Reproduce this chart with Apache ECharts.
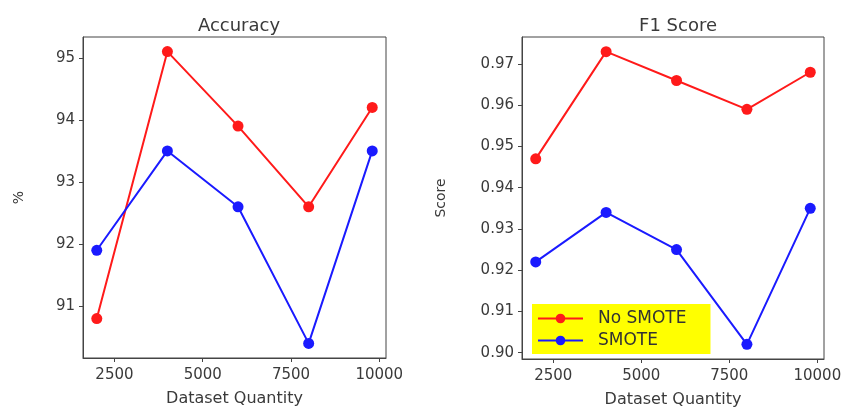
<!DOCTYPE html>
<html><head><meta charset="utf-8">
<script src="https://cdn.jsdelivr.net/npm/echarts@6/dist/echarts.min.js"></script>
<style>html,body{margin:0;padding:0;background:#fff}#c{width:848px;height:407px}</style>
</head><body><div id="c"></div>
<script>
const quantities = [2000, 4000, 6000, 8000, 9800];
const accNoSmote = [90.8, 95.1, 93.9, 92.6, 94.2];
const accSmote = [91.9, 93.5, 92.6, 90.4, 93.5];
const f1NoSmote = [0.947, 0.973, 0.966, 0.959, 0.968];
const f1Smote = [0.922, 0.934, 0.925, 0.902, 0.935];
const xTicks = [2500, 5000, 7500, 10000];
const accTicks = [91, 92, 93, 94, 95];
const f1Ticks = [0.90, 0.91, 0.92, 0.93, 0.94, 0.95, 0.96, 0.97];

const font = 'DejaVu Sans';
const txt = '#3a3a3a';
const red = '#ff1a1a', blue = '#1a1aff';
const pairs = (xs, ys) => xs.map((x, i) => [x, ys[i]]);

function xAxis(idx) {
  return {
    type: 'value', gridIndex: idx, min: 1610, max: 10190,
    name: 'Dataset Quantity', nameLocation: 'middle', nameGap: 33,
    nameTextStyle: {fontFamily: font, fontSize: 16, color: txt},
    axisLine: {show: true, lineStyle: {color: '#444'}},
    axisTick: {show: true, customValues: xTicks, length: 4, lineStyle: {color: '#444'}},
    axisLabel: {customValues: xTicks, fontFamily: font, fontSize: 15, color: txt, margin: 10, formatter: v => String(v)},
    splitLine: {show: false}
  };
}
function yAxis(idx, mn, mx, ticks, name, fmt, gap) {
  return {
    type: 'value', gridIndex: idx, min: mn, max: mx,
    name: name, nameLocation: 'middle', nameGap: gap,
    nameTextStyle: {fontFamily: font, fontSize: 14, color: txt},
    axisLine: {show: true, lineStyle: {color: '#444'}},
    axisTick: {show: true, customValues: ticks, length: 4, lineStyle: {color: '#444'}},
    axisLabel: {customValues: ticks, fontFamily: font, fontSize: 15, color: txt, margin: 8, formatter: fmt},
    splitLine: {show: false}
  };
}
function line(name, data, color, xi, yi) {
  return {
    name: name, type: 'line', xAxisIndex: xi, yAxisIndex: yi, data: data,
    symbol: 'circle', symbolSize: 11, showSymbol: true,
    lineStyle: {color: color, width: 2}, itemStyle: {color: color},
    emphasis: {disabled: true}, animation: false
  };
}
const chart = echarts.init(document.getElementById('c'), null, {renderer: 'canvas'});
chart.setOption({
  animation: false,
  title: [
    {text: 'Accuracy', left: 234, top: 12, textAlign: 'center', textStyle: {fontFamily: font, fontSize: 18, fontWeight: 'normal', color: txt}},
    {text: 'F1 Score', left: 673, top: 12, textAlign: 'center', textStyle: {fontFamily: font, fontSize: 18, fontWeight: 'normal', color: txt}}
  ],
  grid: [
    {left: 83, top: 37, width: 303, height: 321, show: true, borderColor: '#444', borderWidth: 1, outerBoundsMode: 'none', containLabel: false},
    {left: 522, top: 37, width: 302, height: 322, show: true, borderColor: '#444', borderWidth: 1, outerBoundsMode: 'none', containLabel: false}
  ],
  xAxis: [xAxis(0), xAxis(1)],
  yAxis: [
    yAxis(0, 90.165, 95.335, accTicks, '%', v => String(v), 57),
    yAxis(1, 0.89845, 0.97655, f1Ticks, 'Score', v => v.toFixed(2), 74)
  ],
  legend: {
    data: ['No SMOTE', 'SMOTE'], orient: 'vertical', left: 532, top: 304,
    backgroundColor: '#ffff00', padding: [6, 24, 5, 5], itemGap: 5,
    itemWidth: 45, itemHeight: 12,
    textStyle: {fontFamily: font, fontSize: 17, color: '#333', padding: [0, 0, 0, 10]},
    seriesIndex: [2, 3]
  },
  series: [
    line('No SMOTE', pairs(quantities, accNoSmote), red, 0, 0),
    line('SMOTE', pairs(quantities, accSmote), blue, 0, 0),
    line('No SMOTE', pairs(quantities, f1NoSmote), red, 1, 1),
    line('SMOTE', pairs(quantities, f1Smote), blue, 1, 1)
  ]
});
</script></body></html>
